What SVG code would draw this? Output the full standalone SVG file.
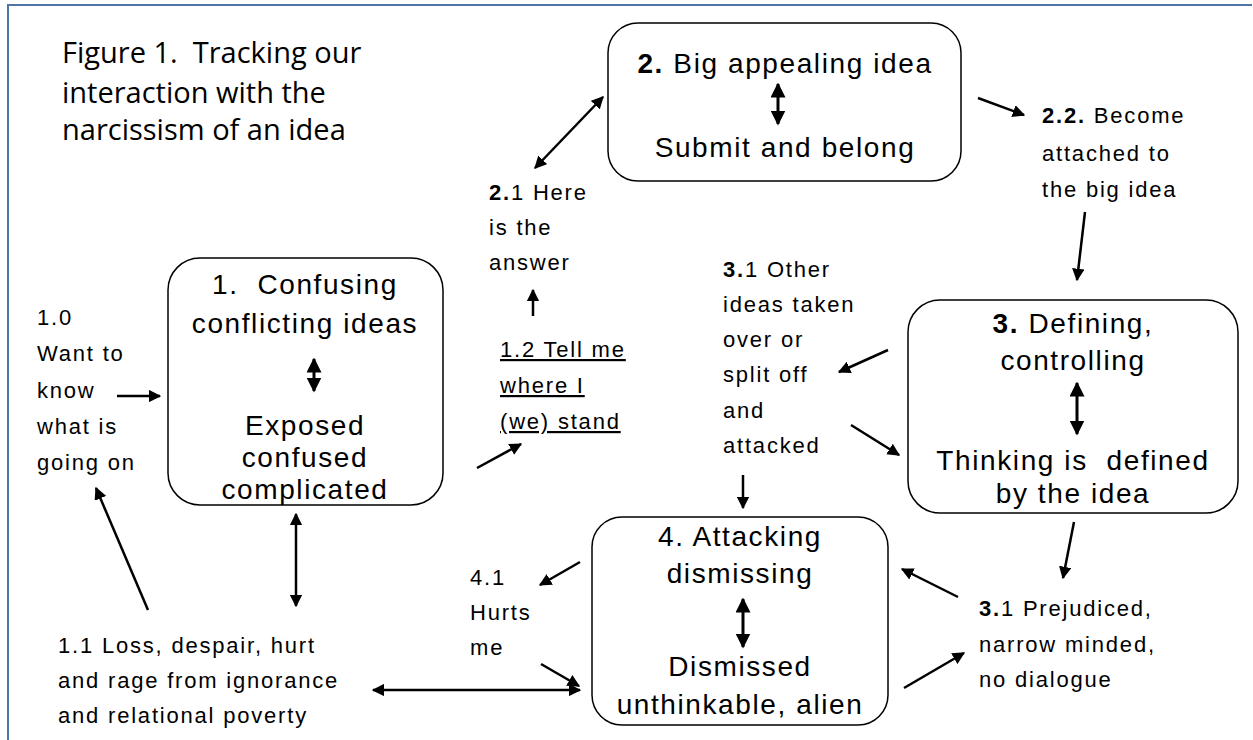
<svg xmlns="http://www.w3.org/2000/svg" width="1253" height="740" viewBox="0 0 1253 740">
<defs>
<marker id="ah" viewBox="0 0 10 10" refX="9" refY="5" markerWidth="5" markerHeight="5" orient="auto-start-reverse" markerUnits="strokeWidth">
<path d="M0,0 L10,5 L0,10 Z" fill="#000"/>
</marker>
<style>
.box{fill:#fff;stroke:#000;stroke-width:1.5}
.nt{font-family:"Liberation Sans","DejaVu Sans",sans-serif;font-size:28px;text-anchor:middle;fill:#000;letter-spacing:1.6px}
.lb{font-family:"Liberation Sans","DejaVu Sans",sans-serif;font-size:22px;fill:#000;letter-spacing:1.8px}
.ttl{font-family:"Open Sans","Noto Sans",sans-serif;font-size:29px;fill:#000}
.c{stroke:#000;stroke-width:2.5;fill:none;marker-end:url(#ah)}
.d{stroke:#000;stroke-width:2.5;fill:none;marker-end:url(#ah);marker-start:url(#ah)}
.di{stroke:#000;stroke-width:3;fill:none;marker-end:url(#ah);marker-start:url(#ah)}
.u{text-decoration:underline}
</style>
</defs>
<rect x="0" y="0" width="1253" height="740" fill="#fff"/>
<path d="M8,740 L8,5 L1252,5" fill="none" stroke="#4f75a8" stroke-width="2"/>

<g id="title">
<text class="ttl" x="62" y="63">Figure 1.&#160; Tracking our</text>
<text class="ttl" x="62" y="103">interaction with the</text>
<text class="ttl" x="62" y="140">narcissism of an idea</text>
</g>

<g id="node1">
<rect class="box" x="168" y="258" width="275" height="247" rx="32"/>
<text class="nt" x="305" y="294">1.&#160; Confusing</text>
<text class="nt" x="305" y="333">conflicting ideas</text>
<line class="di" x1="314" y1="359" x2="314" y2="391"/>
<text class="nt" x="305" y="435">Exposed</text>
<text class="nt" x="305" y="467">confused</text>
<text class="nt" x="305" y="499">complicated</text>
</g>

<g id="node2">
<rect class="box" x="608" y="23" width="353" height="158" rx="30"/>
<text class="nt" x="785" y="73"><tspan font-weight="bold">2.</tspan> Big appealing idea</text>
<line class="di" x1="778" y1="84" x2="778" y2="124"/>
<text class="nt" x="785" y="157">Submit and belong</text>
</g>

<g id="node3">
<rect class="box" x="908" y="300" width="330" height="213" rx="32"/>
<text class="nt" x="1073" y="333"><tspan font-weight="bold">3.</tspan> Defining,</text>
<text class="nt" x="1073" y="370">controlling</text>
<line class="di" x1="1077" y1="383" x2="1077" y2="434"/>
<text class="nt" x="1073" y="470">Thinking is&#160; defined</text>
<text class="nt" x="1073" y="503">by the idea</text>
</g>

<g id="node4">
<rect class="box" x="592" y="517" width="296" height="208" rx="30"/>
<text class="nt" x="740" y="546">4. Attacking</text>
<text class="nt" x="740" y="583">dismissing</text>
<line class="di" x1="743" y1="599" x2="743" y2="647"/>
<text class="nt" x="740" y="676">Dismissed</text>
<text class="nt" x="740" y="714">unthinkable, alien</text>
</g>

<g id="label10">
<text class="lb" x="37" y="325">1.0</text>
<text class="lb" x="37" y="361">Want to</text>
<text class="lb" x="37" y="398">know</text>
<text class="lb" x="37" y="434">what is</text>
<text class="lb" x="37" y="470">going on</text>
</g>

<g id="label11">
<text class="lb" x="58" y="653">1.1 Loss, despair, hurt</text>
<text class="lb" x="58" y="688">and rage from ignorance</text>
<text class="lb" x="58" y="723">and relational poverty</text>
</g>

<g id="label12">
<text class="lb u" x="500" y="357">1.2 Tell me</text>
<text class="lb u" x="500" y="393">where I</text>
<text class="lb u" x="500" y="429">(we) stand</text>
</g>

<g id="label21">
<text class="lb" x="489" y="200"><tspan font-weight="bold">2.</tspan>1 Here</text>
<text class="lb" x="489" y="235">is the</text>
<text class="lb" x="489" y="270">answer</text>
</g>

<g id="label22">
<text class="lb" x="1042" y="123"><tspan font-weight="bold">2.2.</tspan> Become</text>
<text class="lb" x="1042" y="161">attached to</text>
<text class="lb" x="1042" y="197">the big idea</text>
</g>

<g id="label31a">
<text class="lb" x="723" y="277"><tspan font-weight="bold">3.</tspan>1 Other</text>
<text class="lb" x="723" y="312">ideas taken</text>
<text class="lb" x="723" y="347">over or</text>
<text class="lb" x="723" y="382">split off</text>
<text class="lb" x="723" y="418">and</text>
<text class="lb" x="723" y="453">attacked</text>
</g>

<g id="label31b">
<text class="lb" x="979" y="616"><tspan font-weight="bold">3.</tspan>1 Prejudiced,</text>
<text class="lb" x="979" y="652">narrow minded,</text>
<text class="lb" x="979" y="687">no dialogue</text>
</g>

<g id="label41">
<text class="lb" x="470" y="585">4.1</text>
<text class="lb" x="470" y="620">Hurts</text>
<text class="lb" x="470" y="655">me</text>
</g>

<g id="connectors">
<line class="c" x1="117" y1="396" x2="160" y2="396"/>
<line class="c" x1="148" y1="610" x2="96" y2="488"/>
<line class="d" x1="296" y1="514" x2="296" y2="606"/>
<line class="d" x1="373" y1="690" x2="580" y2="690"/>
<line class="c" x1="477" y1="468" x2="521" y2="444"/>
<line class="c" x1="533" y1="316" x2="533" y2="290"/>
<line class="d" x1="535" y1="168" x2="603" y2="97"/>
<line class="c" x1="978" y1="98" x2="1024" y2="115"/>
<line class="c" x1="1085" y1="212" x2="1077" y2="280"/>
<line class="c" x1="888" y1="350" x2="839" y2="372"/>
<line class="c" x1="851" y1="425" x2="899" y2="455"/>
<line class="c" x1="743" y1="475" x2="743" y2="508"/>
<line class="c" x1="1074" y1="522" x2="1063" y2="578"/>
<line class="c" x1="958" y1="597" x2="902" y2="569"/>
<line class="c" x1="904" y1="688" x2="964" y2="653"/>
<line class="c" x1="580" y1="562" x2="540" y2="585"/>
<line class="c" x1="541" y1="664" x2="579" y2="686"/>
</g>
</svg>
